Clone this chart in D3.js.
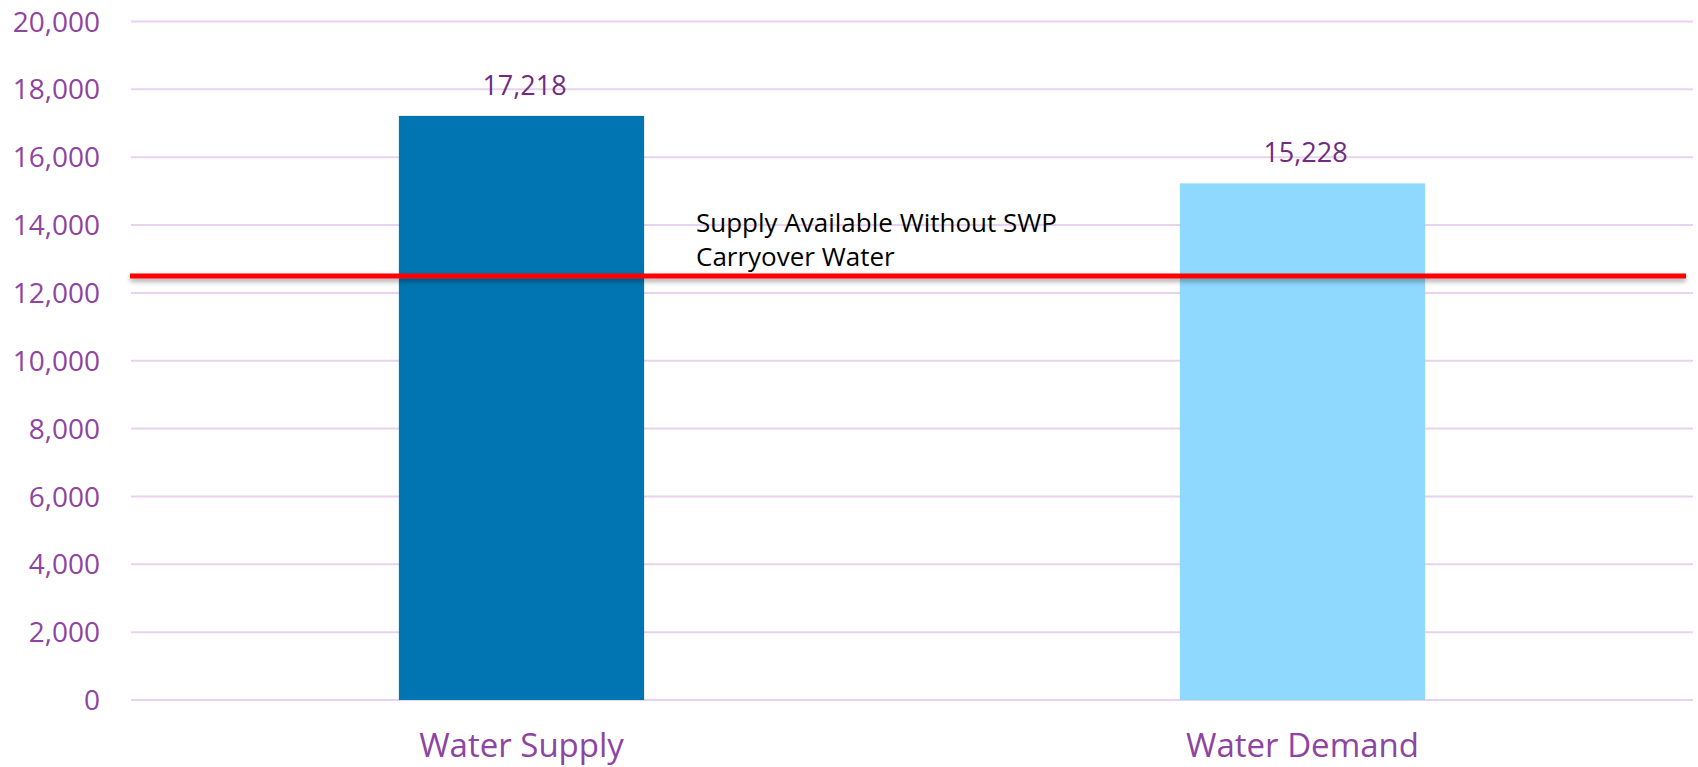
<!DOCTYPE html>
<html>
<head>
<meta charset="utf-8">
<script src="https://cdn.jsdelivr.net/npm/d3@7"></script>
<style>
  body { margin: 0; background: #fff; }
  svg { display: block; font-family: "Open Sans", sans-serif; }
</style>
</head>
<body>
<svg width="1698" height="767"></svg>
<script>
// chart data
var categories = ["Water Supply", "Water Demand"];
var values = [17218, 15228];
var barColors = ["#0075B1", "#8FD8FF"];
var yTicks = [0, 2000, 4000, 6000, 8000, 10000, 12000, 14000, 16000, 18000, 20000];
var refValue = 12500;
var refLabel = ["Supply Available Without SWP", "Carryover Water"];

function drawChart() {
  var svg = d3.select("svg");
  var plotLeft = 131, plotRight = 1693, plotTop = 21.5, plotBottom = 700;

  var x = d3.scaleBand()
      .domain(categories)
      .range([plotLeft, plotRight])
      .paddingInner(0.686)
      .paddingOuter(0.343);

  var y = d3.scaleLinear()
      .domain([0, 20000])
      .range([plotBottom, plotTop]);

  var fmt = d3.format(",");

  // shadow for the red line (user space, the line has no height)
  var f = svg.append("defs").append("filter").attr("id", "shadow")
      .attr("filterUnits", "userSpaceOnUse")
      .attr("x", 0).attr("y", 0).attr("width", 1698).attr("height", 767);
  f.append("feDropShadow").attr("dx", 0).attr("dy", 3).attr("stdDeviation", 2.5)
      .attr("flood-color", "#000").attr("flood-opacity", 0.35);

  // gridlines
  svg.append("g")
      .selectAll("line")
      .data(yTicks)
      .enter()
      .append("line")
      .attr("x1", plotLeft).attr("x2", plotRight)
      .attr("y1", d => y(d)).attr("y2", d => y(d))
      .attr("stroke", "#E9D2EF")
      .attr("stroke-width", 2);

  // y axis labels
  svg.append("g")
      .selectAll("text")
      .data(yTicks)
      .enter()
      .append("text")
      .attr("x", 100)
      .attr("y", d => y(d))
      .attr("dy", "0.36em")
      .attr("text-anchor", "end")
      .attr("fill", "#8E44A2")
      .style("font-size", "28px")
      .text(d => fmt(d));

  // bars
  svg.append("g")
      .selectAll("rect")
      .data(values)
      .enter()
      .append("rect")
      .attr("x", (d, i) => x(categories[i]))
      .attr("width", x.bandwidth())
      .attr("y", d => y(d))
      .attr("height", d => y(0) - y(d))
      .attr("fill", (d, i) => barColors[i]);

  // value labels
  svg.append("g")
      .selectAll("text")
      .data(values)
      .enter()
      .append("text")
      .attr("x", (d, i) => x(categories[i]) + x.bandwidth() / 2 + 3)
      .attr("y", d => y(d) - 21)
      .attr("text-anchor", "middle")
      .attr("fill", "#6F2C82")
      .style("font-size", "27px")
      .text(d => fmt(d));

  // category labels
  svg.append("g")
      .selectAll("text")
      .data(categories)
      .enter()
      .append("text")
      .attr("x", d => x(d) + x.bandwidth() / 2)
      .attr("y", 757)
      .attr("text-anchor", "middle")
      .attr("fill", "#8E44A2")
      .style("font-size", "33px")
      .text(d => d);

  // reference line
  svg.append("line")
      .attr("x1", 130).attr("x2", 1686)
      .attr("y1", y(refValue)).attr("y2", y(refValue))
      .attr("stroke", "#FF0000")
      .attr("stroke-width", 5)
      .attr("filter", "url(#shadow)");

  svg.append("text")
      .attr("x", 696)
      .attr("y", 232)
      .attr("fill", "#000")
      .style("font-size", "26px")
      .selectAll("tspan")
      .data(refLabel)
      .enter()
      .append("tspan")
      .attr("x", 696)
      .attr("dy", (d, i) => i === 0 ? 0 : 34)
      .text(d => d);
}

drawChart();
</script>
</body>
</html>
